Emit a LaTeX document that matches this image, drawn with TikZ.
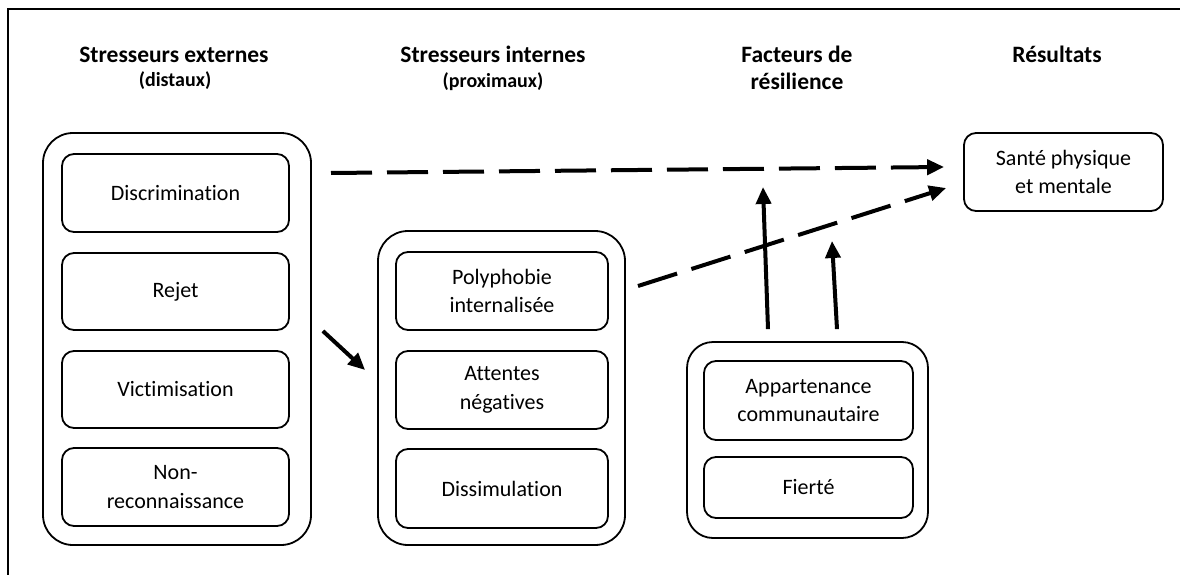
\documentclass[tikz,border=0pt]{standalone}
\usepackage{fontspec}
\setmainfont{Carlito}[Ligatures=NoCommon]
\usetikzlibrary{arrows.meta}
\begin{document}
\begin{tikzpicture}[x=1pt,y=-1pt,
  inbox/.style={draw, line width=1.8pt, rounded corners=12pt, align=center,
    inner sep=0pt, font=\fontsize{22}{28.5}\selectfont},
  outbox/.style={draw, line width=1.8pt, rounded corners=30pt, inner sep=0pt},
  head/.style={anchor=base, font=\fontsize{23.5}{28}\selectfont\bfseries},
  subhead/.style={anchor=base, font=\fontsize{20}{24}\selectfont\bfseries},
  link/.style={line width=4pt, -{Triangle[length=17pt,width=15pt]}},
  dashlink/.style={link, dash pattern=on 41pt off 15pt},
  frame/.style={line width=2.5pt}
]
\useasboundingbox (0,0) rectangle (1180,575);

% frame
\coordinate (fbl) at (8,575);
\coordinate (ftl) at (8,9);
\coordinate (ftr) at (1180,9);
\draw[frame] (fbl) -- (ftl) -- (ftr);

% column headings
\node[head] (h1) at (174,63) {Stresseurs externes};
\node[subhead] (h1s) at (175,87) {(distaux)};
\node[head] (h2) at (493,63) {Stresseurs internes};
\node[subhead] (h2s) at (493,88) {(proximaux)};
\node[head] (h3) at (797,63) {Facteurs de};
\node[head] (h3s) at (797,90) {résilience};
\node[head] (h4) at (1057,63) {Résultats};

% external stressors
\node[outbox, minimum width=268pt, minimum height=412pt] (ext) at (177,339) {};
\node[inbox, minimum width=227pt, minimum height=78pt] (discr) at (175.5,193) {Discrimination};
\node[inbox, minimum width=227pt, minimum height=77pt] (rejet) at (175.5,291.5) {Rejet};
\node[inbox, minimum width=227pt, minimum height=77pt] (vict) at (175.5,389.5) {Victimisation};
\node[inbox, minimum width=227pt, minimum height=78pt] (nonrec) at (175.5,487) {Non-\\reconnaissance};

% internal stressors
\node[outbox, minimum width=247pt, minimum height=314pt] (intern) at (501.5,388) {};
\node[inbox, minimum width=212pt, minimum height=78pt] (poly) at (502,291) {Polyphobie\\internalisée};
\node[inbox, minimum width=212pt, minimum height=78pt] (attentes) at (502,390) {Attentes\\négatives};
\node[inbox, minimum width=212pt, minimum height=79pt] (dissim) at (502,488.5) {Dissimulation};

% resilience factors
\node[outbox, rounded corners=26pt, minimum width=241pt, minimum height=196pt] (resil) at (807.5,440) {};
\node[inbox, minimum width=209pt, minimum height=79pt] (appart) at (808.5,400.5) {Appartenance\\communautaire};
\node[inbox, minimum width=209pt, minimum height=61pt] (fierte) at (808.5,487.5) {Fierté};

% outcome
\node[inbox, minimum width=199pt, minimum height=78pt] (sante) at (1063.5,172) {Santé physique\\et mentale};

% connectors
\coordinate (d1s) at (331,173);
\coordinate (d2s) at (638,286);
\coordinate (v1e) at (763,187);
\coordinate (v2e) at (832,241);
\draw[dashlink] (d1s) -- ([xshift=-19pt,yshift=5pt]sante.west);
\draw[dashlink] (d2s) -- ([xshift=-17pt,yshift=-16pt]sante.west);
\draw[link] ([xshift=-39.5pt,yshift=12pt]resil.north) -- (v1e);
\draw[link] ([xshift=29.5pt,yshift=12pt]resil.north) -- (v2e);
\draw[link] ([xshift=11pt,yshift=8pt]ext.east) -- ([xshift=-12pt,yshift=18pt]intern.west);
\end{tikzpicture}
\end{document}
